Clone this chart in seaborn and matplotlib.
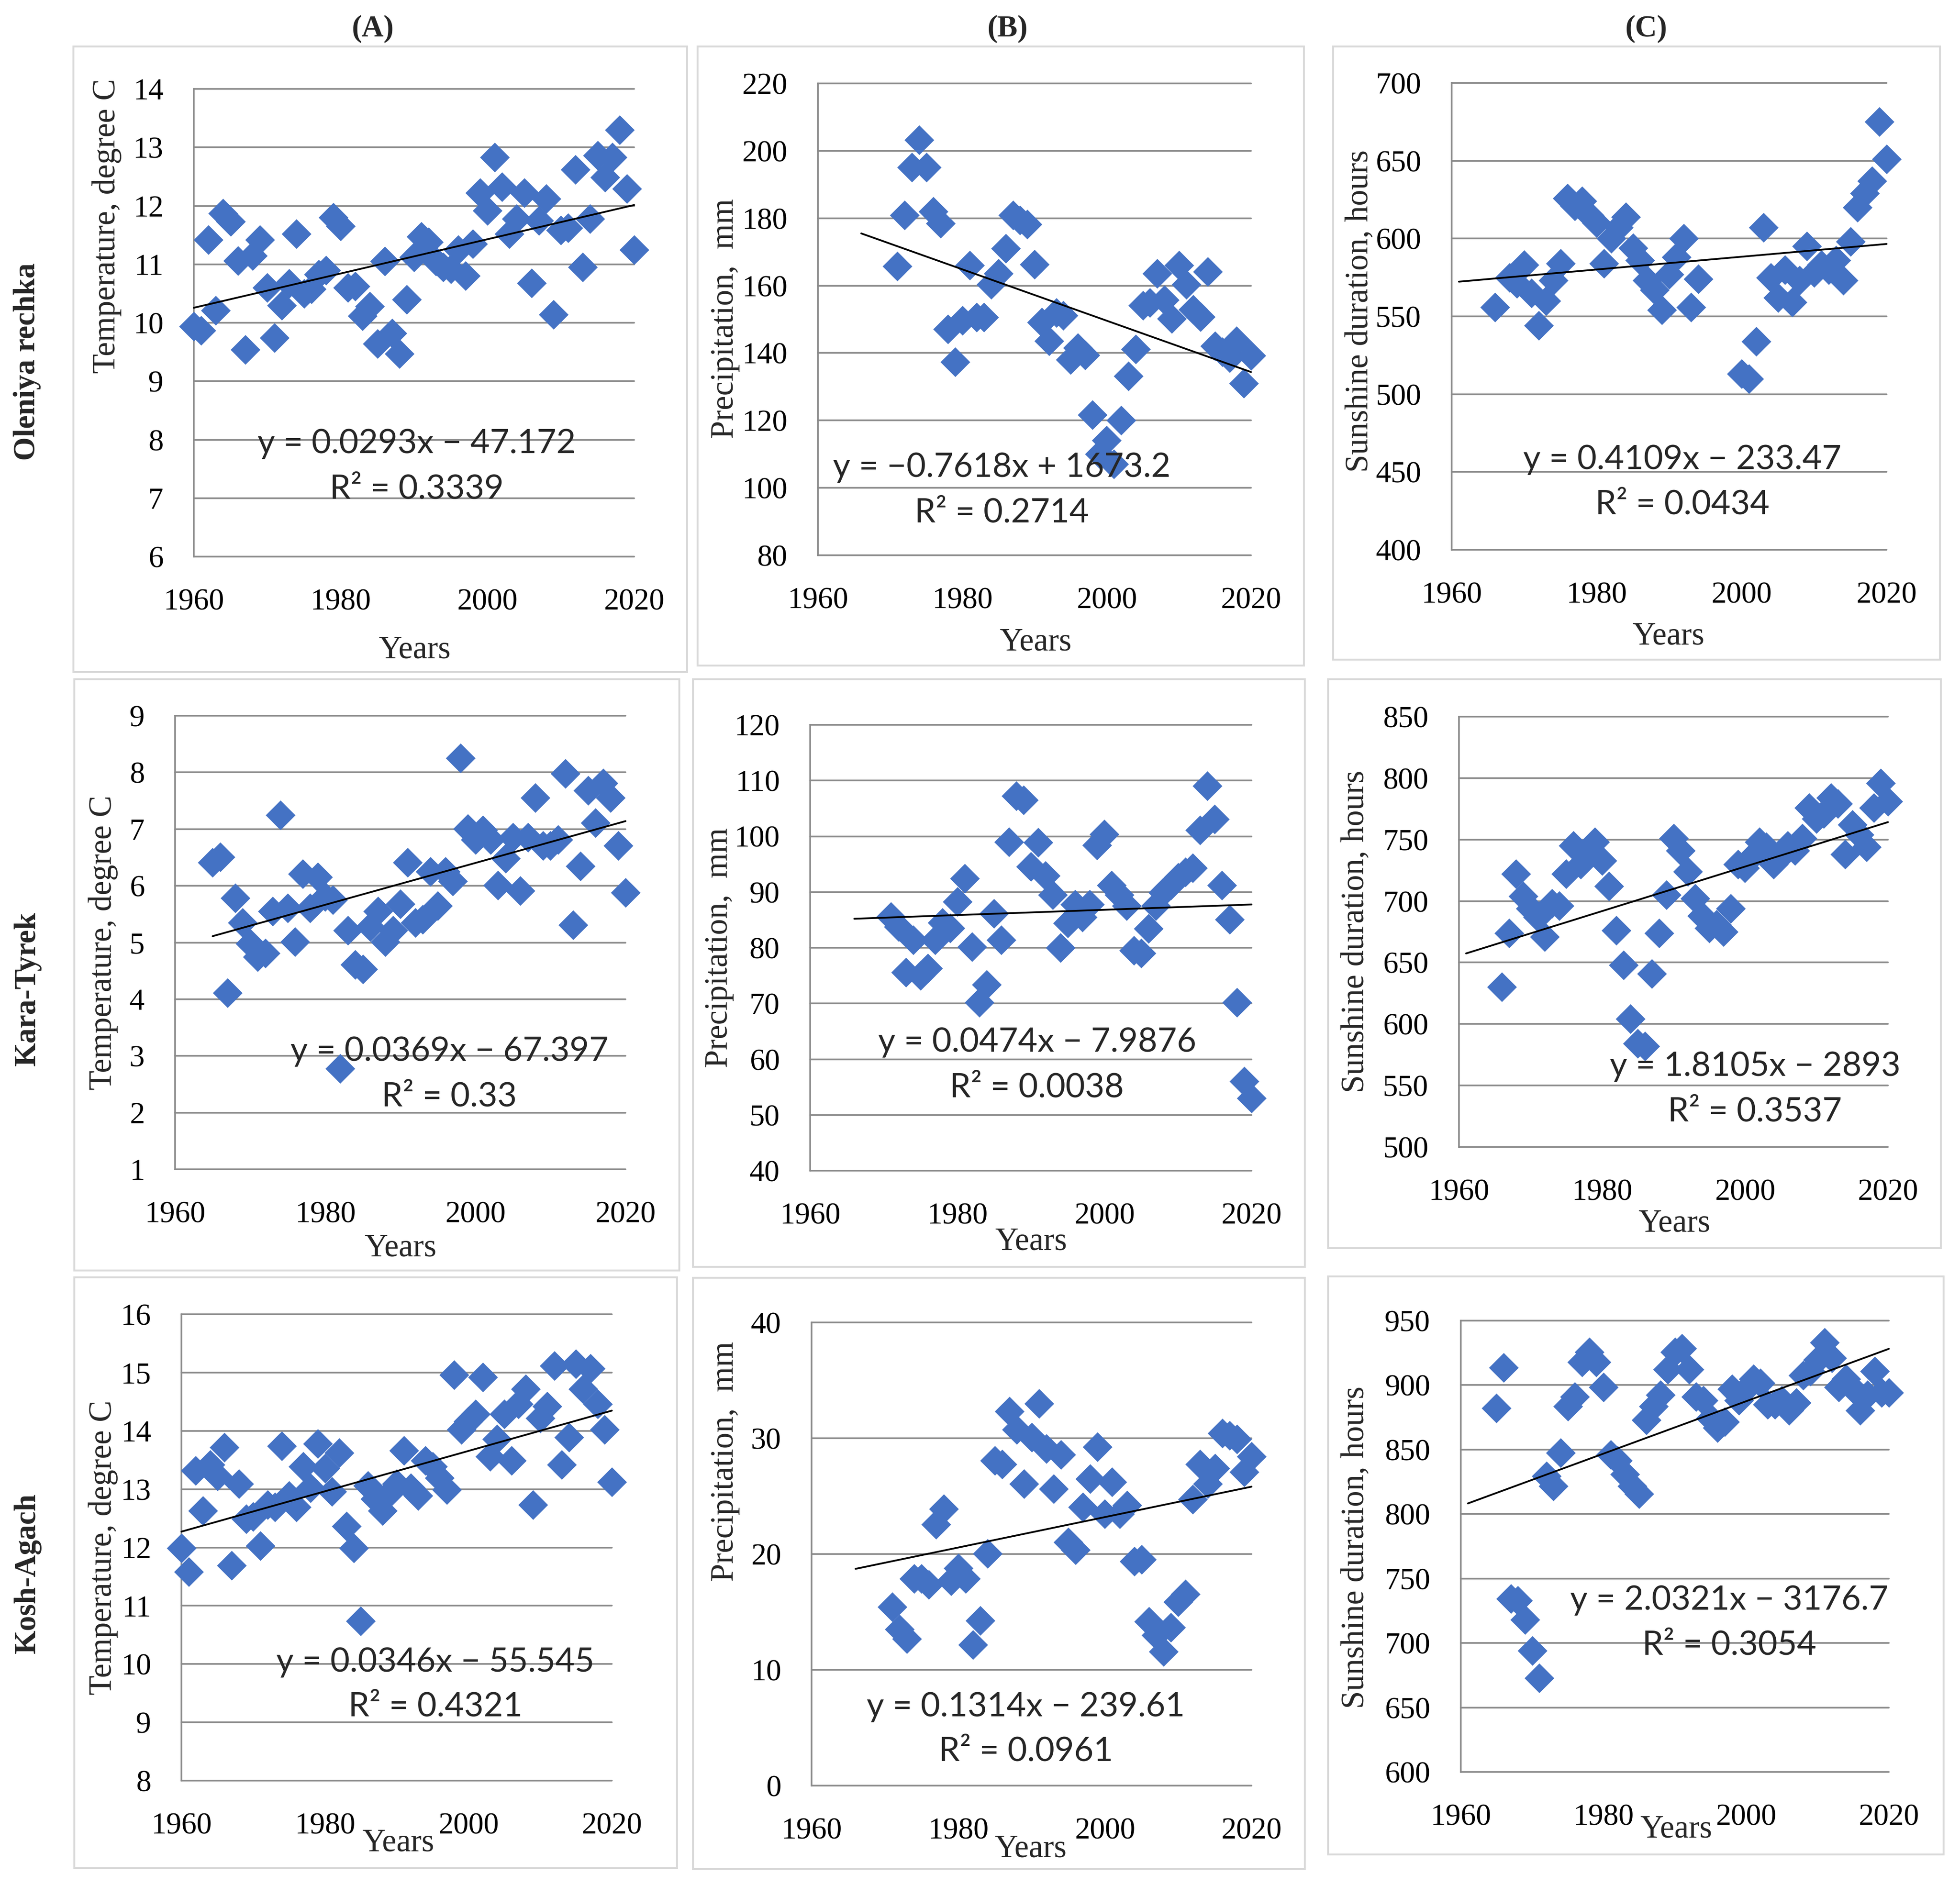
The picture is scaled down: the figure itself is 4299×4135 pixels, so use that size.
import numpy as np
import pandas as pd
import matplotlib
matplotlib.use("Agg")
import matplotlib.pyplot as plt
import seaborn as sns
from matplotlib.patches import Rectangle

sns.set_theme(style="white")
plt.rcParams['font.family'] = ['Liberation Serif', 'DejaVu Serif']

# ---------------- data ----------------
ole_temp_years = list(range(1960, 2021))
ole_temp = [9.94, 9.87, 11.42, 10.21, 11.87, 11.73, 11.06, 9.54, 11.15, 11.42,
            10.60, 9.74, 10.30, 10.67, 11.52, 10.50, 10.58, 10.83, 10.90, 11.80,
            11.65, 10.60, 10.62, 10.12, 10.28, 9.64, 11.05, 9.82, 9.47, 10.40,
            11.12, 11.47, 11.38, 11.05, 10.95, 10.92, 11.25, 10.80, 11.35, 12.22,
            11.92, 12.83, 12.32, 11.52, 11.78, 12.22, 10.68, 11.75, 12.12, 10.14,
            11.58, 11.62, 12.62, 10.95, 11.78, 12.86, 12.49, 12.83, 13.30, 12.29,
            11.25]

ole_prec_years = list(range(1971, 2021))
ole_prec = [165.7, 180.9, 195.1, 203.2, 195.1, 182.0, 178.5, 147.1, 137.4, 149.7,
            166.0, 150.6, 150.6, 160.4, 163.6, 171.0, 180.9, 179.4, 178.2, 166.3,
            149.1, 143.6, 152.0, 151.1, 138.0, 141.5, 139.4, 121.7, 110.0, 114.1,
            107.1, 120.0, 133.1, 141.1, 154.1, 154.9, 163.6, 155.7, 150.2, 166.0,
            160.4, 152.9, 150.8, 164.2, 142.1, 140.3, 138.6, 143.6, 131.0, 139.2]

ole_sun_years = [1966] + list(range(1968, 1995)) + list(range(2000, 2021))
ole_sun = [556, 575, 571, 583, 565, 544, 560, 573, 584, 626,
           621, 624, 615, 610, 584, 600, 607, 614, 594, 586,
           573, 567, 554, 577, 588, 600, 556, 574,
           513, 510, 534, 607, 575, 562, 580, 559, 573, 595,
           578, 583, 580, 586, 573, 598, 620, 629, 637, 675, 651]

kt_temp_years = list(range(1965, 2021))
kt_temp = [6.41, 6.51, 4.11, 5.78, 5.35, 4.98, 4.75, 4.81, 5.55, 7.25,
           5.61, 5.01, 6.21, 5.61, 6.15, 5.81, 5.75, 2.78, 5.21, 4.61,
           4.53, 5.28, 5.55, 5.01, 5.21, 5.68, 6.41, 5.35, 5.41, 6.25,
           5.65, 6.25, 6.08, 8.25, 7.01, 6.81, 6.98, 6.81, 6.01, 6.48,
           6.85, 5.91, 6.85, 7.55, 6.71, 6.71, 6.81, 7.98, 5.31, 6.35,
           7.68, 7.11, 7.81, 7.55, 6.71, 5.88]

kt_prec_years = list(range(1971, 2021))
kt_prec = [85.6, 83.8, 75.6, 81.4, 75.0, 76.3, 81.4, 84.5, 83.5, 88.3,
           92.4, 80.2, 70.2, 73.4, 86.1, 81.4, 99.0, 107.2, 106.5, 94.6,
           98.9, 92.9, 89.5, 80.0, 84.4, 87.8, 85.5, 87.8, 98.4, 100.4,
           91.2, 89.5, 87.5, 79.5, 79.0, 83.4, 87.5, 89.9, 91.2, 92.6,
           93.6, 94.3, 101.1, 109.0, 103.1, 91.2, 85.1, 70.2, 56.0, 53.0]

kt_sun_years = list(range(1966, 2021))
kt_sun = [630, 674, 722, 704, 694, 687, 671, 698, 696, 722,
          745, 730, 741, 748, 733, 712, 676, 648, 604, 584,
          582, 641, 674, 705, 751, 741, 724, 702, 688, 678,
          681, 675, 694, 730, 727, 736, 748, 744, 730, 736,
          745, 741, 751, 776, 767, 771, 784, 779, 738, 762,
          754, 744, 776, 796, 781]

ka_temp_years = list(range(1960, 2021))
ka_temp = [11.99, 11.58, 13.32, 12.63, 13.42, 13.22, 13.72, 11.69, 13.09, 12.49,
           12.53, 12.03, 12.73, 12.69, 13.74, 12.89, 12.69, 13.39, 13.02, 13.78,
           13.36, 12.96, 13.62, 12.36, 11.99, 10.74, 13.06, 12.83, 12.63, 12.93,
           13.09, 13.66, 13.02, 12.89, 13.49, 13.39, 13.19, 12.99, 14.96, 14.02,
           14.16, 14.29, 14.92, 13.56, 13.86, 14.29, 13.49, 14.46, 14.72, 12.73,
           14.22, 14.42, 15.12, 13.42, 13.89, 15.15, 14.72, 15.07, 14.46, 14.02,
           13.12]

ka_prec_years = list(range(1971, 2021))
ka_prec = [15.44, 13.5, 12.66, 17.86, 17.86, 17.35, 22.55, 23.89, 17.69, 18.79,
           17.86, 12.16, 14.24, 20.03, 28.07, 27.74, 32.33, 30.75, 26.06, 30.08,
           33.0, 29.08, 25.63, 28.58, 21.04, 20.37, 24.05, 26.5, 29.25, 23.48,
           26.23, 23.48, 24.22, 19.36, 19.53, 14.17, 13.0, 11.56, 13.67, 15.85,
           16.52, 24.72, 27.74, 26.06, 27.4, 30.42, 30.25, 29.92, 27.07, 28.41]

ka_sun_years = list(range(1965, 2021))
ka_sun = [882, 913.6, 734.5, 733, 718, 694, 672.8, 829.3, 821.8, 847.4,
          883.5, 891, 918, 925.6, 918, 898.5, 845.9, 841.4, 830.8, 821.8,
          815.8, 873, 883.5, 892.5, 912.1, 925.6, 928.6, 912.1, 891, 888,
          874.5, 866.9, 871.5, 897, 888, 897, 904.6, 901.5, 885, 885,
          888, 880.5, 886.5, 907.6, 910.6, 919.6, 933.1, 921.1, 898.5, 904.6,
          897, 880.5, 892.5, 910.6, 894, 894]

# trend line coefficients (as printed in the chart) and spans
slopes = [0.0293, -0.7618, 0.4109, 0.0369, 0.0474, 1.8105, 0.0346, 0.1314, 2.0321]
intercepts = [-47.172, 1673.2, -233.47, -67.397, -7.9876, -2893, -55.545, -239.61, -3176.7]
eq_texts = ["y = 0.0293x \u2212 47.172", "y = \u22120.7618x + 1673.2", "y = 0.4109x \u2212 233.47",
            "y = 0.0369x \u2212 67.397", "y = 0.0474x \u2212 7.9876", "y = 1.8105x \u2212 2893",
            "y = 0.0346x \u2212 55.545", "y = 0.1314x \u2212 239.61", "y = 2.0321x \u2212 3176.7"]
r2_texts = ["R\u00b2 = 0.3339", "R\u00b2 = 0.2714", "R\u00b2 = 0.0434",
            "R\u00b2 = 0.33", "R\u00b2 = 0.0038", "R\u00b2 = 0.3537",
            "R\u00b2 = 0.4321", "R\u00b2 = 0.0961", "R\u00b2 = 0.3054"]
trend_start = [1960, 1966, 1961, 1965, 1966, 1961, 1960, 1966, 1961]
trend_end = [2020, 2020, 2020, 2020, 2020, 2020, 2020, 2020, 2020]

y_labels = ["Temperature, degree C", "Precipitation,  mm", "Sunshine duration, hours"]
row_labels = ["Oleniya rechka", "Kara-Tyrek", "Kosh-Agach"]
col_labels = ["(A)", "(B)", "(C)"]
y_ranges = [(6, 14, 1), (80, 220, 20), (400, 700, 50),
            (1, 9, 1), (40, 120, 10), (500, 850, 50),
            (8, 16, 1), (0, 40, 10), (600, 950, 50)]
x_ticks = [1960, 1980, 2000, 2020]

series = [(ole_temp_years, ole_temp), (ole_prec_years, ole_prec), (ole_sun_years, ole_sun),
          (kt_temp_years, kt_temp), (kt_prec_years, kt_prec), (kt_sun_years, kt_sun),
          (ka_temp_years, ka_temp), (ka_prec_years, ka_prec), (ka_sun_years, ka_sun)]

# ---------------- layout (pixels) ----------------
W, H, DPI = 4299, 4135, 100
axes_px = [(425, 1391, 195, 1221), (1794, 2744, 183, 1218), (3184, 4138, 182, 1206),
           (384, 1372, 1570, 2565), (1777, 2745, 1590, 2568), (3200, 4141, 1572, 2516),
           (398, 1342, 2883, 3906), (1780, 2745, 2901, 3917), (3204, 4143, 2897, 3887)]
border_px = [(161, 1507, 102, 1474), (1530, 2860, 102, 1460), (2924, 4255, 102, 1447),
             (163, 1490, 1490, 2787), (1520, 2862, 1490, 2779), (2913, 4257, 1490, 2738),
             (163, 1485, 2802, 4098), (1520, 2862, 2803, 4100), (2913, 4263, 2800, 4068)]
ylab_pos = [(-0.197, 0.707), (-0.214, 0.502), (-0.211, 0.511),
            (-0.16, 0.50), (-0.206, 0.50), (-0.24, 0.501),
            (-0.182, 0.5), (-0.196, 0.70), (-0.245, 0.498)]
xlab_pos = [(0.501, -0.2), (0.502, -0.185), (0.498, -0.186),
            (0.5, -0.174), (0.5, -0.16), (0.502, -0.178),
            (0.503, -0.134), (0.498, -0.137), (0.503, -0.127)]
eq_pos = [(0.506, 0.241, 0.144), (0.424, 0.186, 0.09), (0.53, 0.193, 0.097),
          (0.609, 0.26, 0.16), (0.514, 0.288, 0.186), (0.69, 0.187, 0.082),
          (0.59, 0.254, 0.158), (0.487, 0.17, 0.074), (0.627, 0.38, 0.281)]
col_label_px = [(817, 63), (2210, 63), (3610, 63)]
row_label_px = [(60, 793), (60, 2169), (60, 3451)]

BLUE = '#4472C4'
GRID = '#8a8a8a'

fig = plt.figure(figsize=(W / DPI, H / DPI), dpi=DPI)
fig.patch.set_facecolor('white')

for i in range(9):
    x0, x1, y0, y1 = border_px[i]
    fig.patches.append(Rectangle((x0 / W, 1 - y1 / H), (x1 - x0) / W, (y1 - y0) / H,
                                 transform=fig.transFigure, fill=False,
                                 edgecolor='#d9d9d9', linewidth=3))

for i in range(9):
    l, r, t, b = axes_px[i]
    ax = fig.add_axes([l / W, 1 - b / H, (r - l) / W, (b - t) / H])
    yrs, vals = series[i]
    df = pd.DataFrame({'Year': yrs, 'Value': vals})
    sns.scatterplot(data=df, x='Year', y='Value', marker='D', s=1100, color=BLUE,
                    edgecolor=BLUE, linewidth=0, ax=ax, legend=False, zorder=3,
                    clip_on=False)
    tx = np.array([trend_start[i], trend_end[i]], dtype=float)
    ty = slopes[i] * tx + intercepts[i]
    ax.plot(tx, ty, color='black', linewidth=2.8, zorder=4, clip_on=False)

    ymin, ymax, ystep = y_ranges[i]
    ax.set_xlim(1960, 2020)
    ax.set_ylim(ymin, ymax)
    ax.set_xticks(x_ticks)
    ax.set_yticks(np.arange(ymin, ymax + ystep / 2, ystep))
    ax.yaxis.grid(True, color=GRID, linewidth=2.6, zorder=0)
    ax.xaxis.grid(False)
    for gl in ax.get_ygridlines():
        gl.set_clip_on(False)
    ax.set_axisbelow(True)
    for side in ['top', 'right', 'bottom']:
        ax.spines[side].set_visible(False)
    ax.spines['left'].set_color(GRID)
    ax.spines['left'].set_linewidth(2.6)
    ax.tick_params(axis='both', length=0, labelsize=48, colors='black')
    ax.tick_params(axis='y', pad=48)
    ax.tick_params(axis='x', pad=50)
    ax.set_facecolor('white')

    ax.set_ylabel(y_labels[i % 3], fontsize=51)
    ax.yaxis.set_label_coords(*ylab_pos[i])
    ax.yaxis.label.set_va('center')
    ax.set_xlabel("Years", fontsize=51)
    ax.xaxis.set_label_coords(*xlab_pos[i])
    ax.xaxis.label.set_va('center')

    ex, ey, ry = eq_pos[i]
    ax.text(ex, ey, eq_texts[i], transform=ax.transAxes, ha='center', va='center',
            fontsize=53, family=['Lato', 'DejaVu Sans'], zorder=5)
    ax.text(ex, ry, r2_texts[i], transform=ax.transAxes, ha='center', va='center',
            fontsize=53, family=['Lato', 'DejaVu Sans'], zorder=5)

for lab, (px, py) in zip(col_labels, col_label_px):
    fig.text(px / W, 1 - py / H, lab, ha='center', va='center', fontsize=48,
             fontweight='bold')
for lab, (px, py) in zip(row_labels, row_label_px):
    fig.text(px / W, 1 - py / H, lab, ha='center', va='center', fontsize=48,
             fontweight='bold', rotation=90)

fig.savefig('out.png', dpi=DPI, facecolor='white')
